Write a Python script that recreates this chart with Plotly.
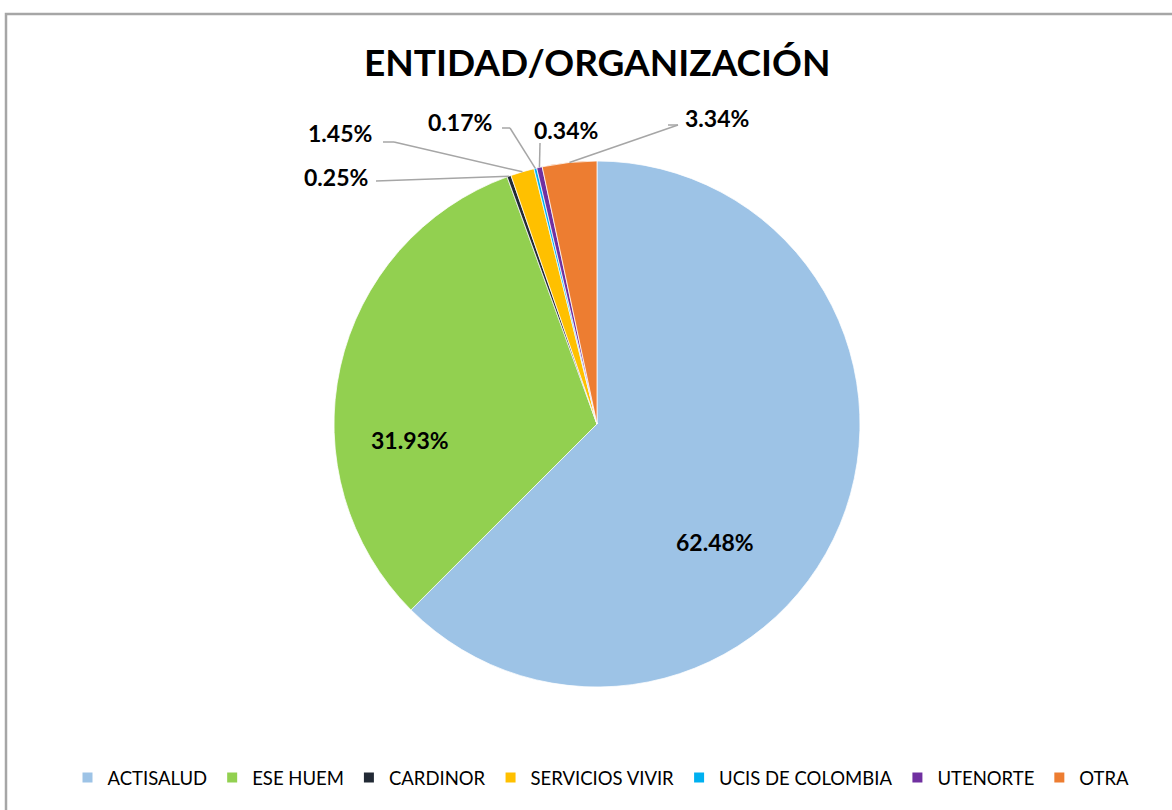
import math
import plotly.graph_objects as go

W, H = 1172, 810

categories = ["ACTISALUD", "ESE HUEM", "CARDINOR", "SERVICIOS VIVIR",
              "UCIS DE COLOMBIA", "UTENORTE", "OTRA"]
values = [62.48, 31.93, 0.25, 1.45, 0.17, 0.34, 3.34]
colors = ["#9DC3E6", "#92D050", "#222A35", "#FFC000", "#00B0F0", "#7030A0", "#ED7D31"]
title_text = "ENTIDAD/ORGANIZACIÓN"

# pie geometry (reference pixels)
CX, CY, R = 597, 424, 263


def px(x):
    return x / W


def py(y):
    return 1 - y / H


fig = go.Figure()
fig.add_trace(go.Pie(
    labels=categories,
    values=values,
    sort=False,
    direction="clockwise",
    rotation=0,
    marker=dict(colors=colors, line=dict(color="white", width=0.75)),
    textinfo="none",
    hoverinfo="label+percent",
    domain=dict(x=[px(CX - R), px(CX + R)], y=[py(CY + R), py(CY - R)]),
    showlegend=True,
))

# label placements (pixel positions of label text) and leader-line elbows
label_pos = {
    "ACTISALUD": (715, 542, None),
    "ESE HUEM": (410, 440, None),
    "CARDINOR": (336, 177, [(376, 181)]),
    "SERVICIOS VIVIR": (340, 133, [(383, 142), (394, 142)]),
    "UCIS DE COLOMBIA": (460, 122, [(502, 128), (510, 128)]),
    "UTENORTE": (566, 130, [(540, 143)]),
    "OTRA": (717, 118, [(668, 125), (678, 125)]),
}

total = sum(values)
annotations = []
shapes = []
cum = 0.0
for cat, v in zip(categories, values):
    mid = (cum + v / 2) / total * 2 * math.pi
    cum += v
    lx, ly, elbow = label_pos[cat]
    annotations.append(dict(
        x=px(lx), y=py(ly), xref="paper", yref="paper",
        text="<b>%.2f%%</b>" % v, showarrow=False,
        font=dict(family="Lato, Carlito, sans-serif", size=23, color="black"),
        xanchor="center", yanchor="middle",
    ))
    if elbow:
        ex = CX + R * math.sin(mid)
        ey = CY - R * math.cos(mid)
        pts = elbow + [(ex, ey)]
        for (x0, y0), (x1, y1) in zip(pts[:-1], pts[1:]):
            shapes.append(dict(type="line", xref="paper", yref="paper",
                               x0=px(x0), y0=py(y0), x1=px(x1), y1=py(y1),
                               line=dict(color="#A6A6A6", width=1.5)))

# outer chart border
shapes.append(dict(type="rect", xref="paper", yref="paper",
                   x0=px(6), y0=-0.02, x1=1.02, y1=py(14),
                   line=dict(color="#A6A6A6", width=2.5)))

annotations.append(dict(
    x=px(597), y=py(62), xref="paper", yref="paper",
    text="<b>%s</b>" % title_text, showarrow=False,
    font=dict(family="Lato, Carlito, sans-serif", size=37, color="black"),
    xanchor="center", yanchor="middle",
))

fig.update_layout(
    width=W, height=H,
    margin=dict(l=0, r=0, t=0, b=0),
    paper_bgcolor="white",
    plot_bgcolor="white",
    annotations=annotations,
    shapes=shapes,
    legend=dict(
        orientation="h", x=px(601), xanchor="center", y=py(778), yanchor="middle",
        font=dict(family="Lato, Carlito, sans-serif", size=18.5, color="#000000"),
        itemsizing="constant", traceorder="normal",
    ),
)

fig.write_html("out.html",
               config={"displayModeBar": False},
               post_script="document.body.style.margin='0';document.body.style.overflow='hidden';")
